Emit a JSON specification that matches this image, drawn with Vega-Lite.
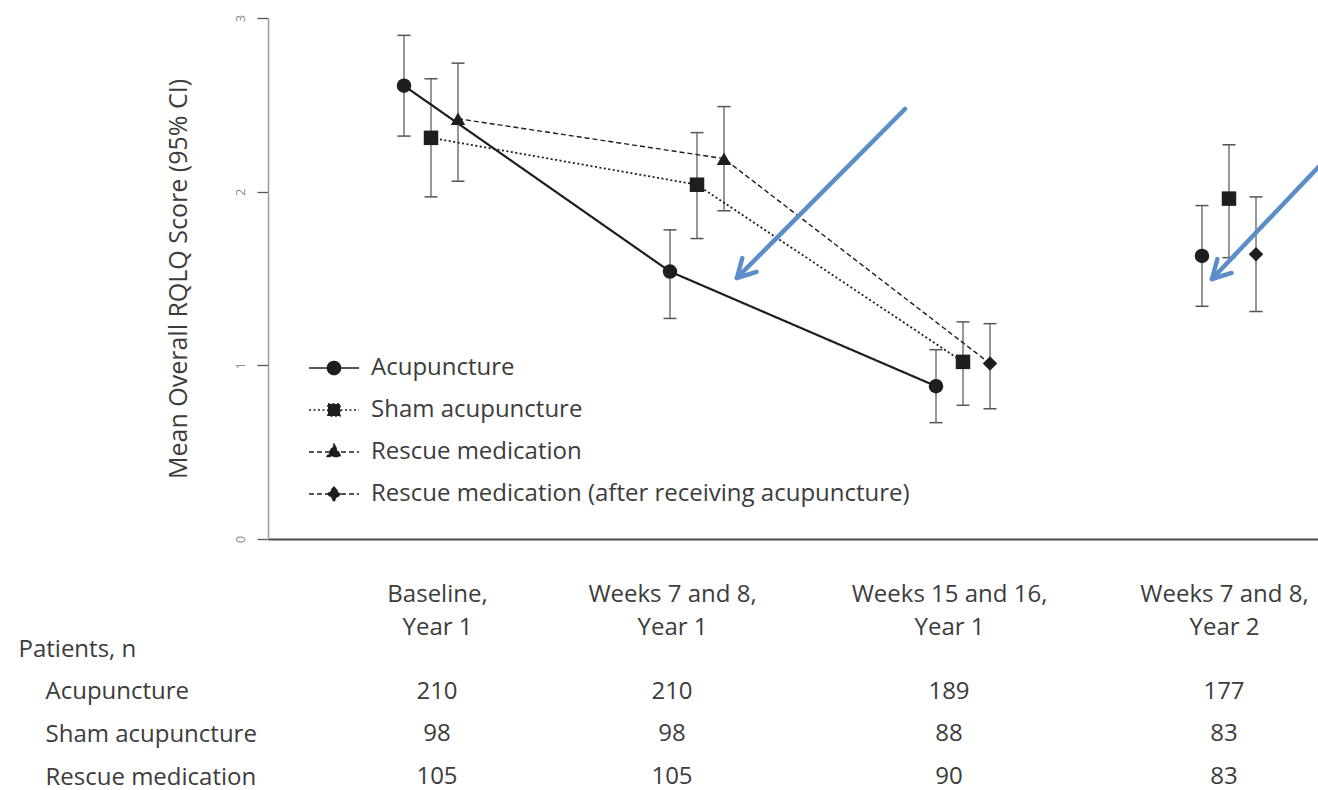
{
  "$schema": "https://vega.github.io/schema/vega-lite/v6.json",
  "background": "white",
  "padding": {"left": 18, "top": 14, "right": 0, "bottom": 12},
  "bounds": "flush",
  "spacing": 110,
  "config": {"view": {"stroke": null}, "font": "Open Sans"},
  "datasets": {
    "scores": [
      {"visit": 1, "arm": "Acupuncture", "group": "Acupuncture", "line": "Acupuncture", "mean": 2.61, "lo": 2.32, "hi": 2.9},
      {"visit": 2, "arm": "Acupuncture", "group": "Acupuncture", "line": "Acupuncture", "mean": 1.54, "lo": 1.27, "hi": 1.78},
      {"visit": 3, "arm": "Acupuncture", "group": "Acupuncture", "line": "Acupuncture", "mean": 0.88, "lo": 0.67, "hi": 1.09},
      {"visit": 4, "arm": "Acupuncture", "group": "Acupuncture", "line": null, "mean": 1.63, "lo": 1.34, "hi": 1.92},
      {"visit": 1, "arm": "Sham acupuncture", "group": "Sham acupuncture", "line": "Sham acupuncture", "mean": 2.31, "lo": 1.97, "hi": 2.65},
      {"visit": 2, "arm": "Sham acupuncture", "group": "Sham acupuncture", "line": "Sham acupuncture", "mean": 2.04, "lo": 1.73, "hi": 2.34},
      {"visit": 3, "arm": "Sham acupuncture", "group": "Sham acupuncture", "line": "Sham acupuncture", "mean": 1.02, "lo": 0.77, "hi": 1.25},
      {"visit": 4, "arm": "Sham acupuncture", "group": "Sham acupuncture", "line": null, "mean": 1.96, "lo": 1.62, "hi": 2.27},
      {"visit": 1, "arm": "Rescue medication", "group": "Rescue medication", "line": "Rescue medication", "mean": 2.42, "lo": 2.06, "hi": 2.74},
      {"visit": 2, "arm": "Rescue medication", "group": "Rescue medication", "line": "Rescue medication", "mean": 2.19, "lo": 1.89, "hi": 2.49},
      {"visit": 3, "arm": "Rescue medication", "group": "Rescue medication (after receiving acupuncture)", "line": "Rescue medication", "mean": 1.01, "lo": 0.75, "hi": 1.24},
      {"visit": 4, "arm": "Rescue medication", "group": "Rescue medication (after receiving acupuncture)", "line": null, "mean": 1.64, "lo": 1.31, "hi": 1.97}
    ],
    "arrows": [
      {"x0": 2.782, "y0": 2.476, "x1": 2.15, "y1": 1.503},
      {"x0": 4.4, "y0": 2.245, "x1": 3.936, "y1": 1.497}
    ],
    "patients": [
      {"visit": 1, "row": "Acupuncture", "n": 210},
      {"visit": 1, "row": "Sham acupuncture", "n": 98},
      {"visit": 1, "row": "Rescue medication", "n": 105},
      {"visit": 2, "row": "Acupuncture", "n": 210},
      {"visit": 2, "row": "Sham acupuncture", "n": 98},
      {"visit": 2, "row": "Rescue medication", "n": 105},
      {"visit": 3, "row": "Acupuncture", "n": 189},
      {"visit": 3, "row": "Sham acupuncture", "n": 88},
      {"visit": 3, "row": "Rescue medication", "n": 90},
      {"visit": 4, "row": "Acupuncture", "n": 177},
      {"visit": 4, "row": "Sham acupuncture", "n": 83},
      {"visit": 4, "row": "Rescue medication", "n": 83}
    ]
  },
  "vconcat": [
    {
      "width": 1050,
      "height": 521,
      "resolve": {"scale": {"x": "independent"}, "axis": {"x": "independent"}},
      "layer": [
        {
          "data": {"name": "scores"},
          "resolve": {"scale": {"shape": "independent", "strokeDash": "independent"}},
          "encoding": {
            "x": {
              "field": "visit",
              "type": "ordinal",
              "scale": {"type": "point", "domain": [1, 2, 3, 4], "range": [163, 961], "padding": 0},
              "axis": null
            },
            "xOffset": {
              "field": "arm",
              "type": "nominal",
              "scale": {"type": "point", "domain": ["Acupuncture", "Sham acupuncture", "Rescue medication"], "range": [-27, 27], "padding": 0}
            }
          },
          "layer": [
            {
              "mark": {"type": "rule", "color": "#8c8c8c", "strokeWidth": 1.8},
              "encoding": {
                "y": {
                  "field": "lo",
                  "type": "quantitative",
                  "scale": {"domain": [0, 3], "nice": false},
                  "axis": {
                    "title": "Mean Overall RQLQ Score (95% CI)",
                    "values": [0, 1, 2, 3],
                    "format": "d",
                    "grid": false,
                    "domainColor": "#9a9a9a",
                    "domainWidth": 1.5,
                    "tickColor": "#555555",
                    "tickSize": 11,
                    "tickWidth": 1.3,
                    "labelAngle": -90,
                    "labelAlign": "center",
                    "labelBaseline": "bottom",
                    "labelFontSize": 13,
                    "labelColor": "#8a8a8a",
                    "labelPadding": 10,
                    "titleFontSize": 25,
                    "titleFontWeight": "normal",
                    "titleColor": "#3c3c3c",
                    "titlePadding": 43
                  }
                },
                "y2": {"field": "hi"}
              }
            },
            {
              "mark": {"type": "point", "shape": "stroke", "size": 169, "filled": false, "color": "#555555", "strokeWidth": 1.5, "opacity": 1},
              "encoding": {"y": {"field": "lo", "type": "quantitative"}}
            },
            {
              "mark": {"type": "point", "shape": "stroke", "size": 169, "filled": false, "color": "#555555", "strokeWidth": 1.5, "opacity": 1},
              "encoding": {"y": {"field": "hi", "type": "quantitative"}}
            },
            {
              "transform": [{"filter": "datum.line != null"}],
              "mark": {"type": "line", "color": "#1e1e1e"},
              "encoding": {
                "y": {"field": "mean", "type": "quantitative"},
                "detail": {"field": "line", "type": "nominal"},
                "order": {"field": "visit", "type": "quantitative"},
                "strokeDash": {
                  "field": "line",
                  "type": "nominal",
                  "scale": {"domain": ["Acupuncture", "Sham acupuncture", "Rescue medication"], "range": [[1, 0], [2, 2.5], [5, 3]]},
                  "legend": null
                },
                "strokeWidth": {
                  "field": "line",
                  "type": "nominal",
                  "scale": {"domain": ["Acupuncture", "Sham acupuncture", "Rescue medication"], "range": [2.2, 1.4, 2]},
                  "legend": null
                }
              }
            },
            {
              "mark": {"type": "point", "filled": true, "color": "#1e1e1e", "opacity": 1, "size": 210},
              "encoding": {
                "y": {"field": "mean", "type": "quantitative"},
                "shape": {
                  "field": "group",
                  "type": "nominal",
                  "scale": {
                    "domain": ["Acupuncture", "Sham acupuncture", "Rescue medication", "Rescue medication (after receiving acupuncture)"],
                    "range": ["circle", "square", "triangle-up", "diamond"]
                  },
                  "legend": null
                }
              }
            },
            {
              "description": "Legend key: line sample with its marker for each series",
              "transform": [{"filter": "false"}],
              "mark": {"type": "point", "filled": true, "fill": "#1e1e1e", "stroke": "#1e1e1e", "strokeWidth": 1.6, "opacity": 1},
              "encoding": {
                "y": {"field": "mean", "type": "quantitative"},
                "shape": {
                  "field": "group",
                  "type": "nominal",
                  "scale": {
                    "domain": ["Acupuncture", "Sham acupuncture", "Rescue medication", "Rescue medication (after receiving acupuncture)"],
                    "range": [
                      "M-1.667,0H1.667M0.433,0A0.433,0.433,0,1,1,-0.433,0A0.433,0.433,0,1,1,0.433,0Z",
                      "M-1.667,0H1.667M-0.4,-0.4H0.4V0.4H-0.4Z",
                      "M-1.667,0H1.667M0,-0.5L0.45,0.3H-0.45Z",
                      "M-1.667,0H1.667M0,-0.45L0.4,0L0,0.45L-0.4,0Z"
                    ]
                  },
                  "legend": {
                    "title": null,
                    "orient": "none",
                    "legendX": 50,
                    "legendY": 334,
                    "padding": 0,
                    "symbolSize": 900,
                    "symbolStrokeWidth": 1.6,
                    "labelFontSize": 24,
                    "labelColor": "#3c3c3c",
                    "labelOffset": 21,
                    "labelLimit": 0,
                    "rowPadding": 14
                  }
                },
                "strokeDash": {
                  "field": "group",
                  "type": "nominal",
                  "scale": {
                    "domain": ["Acupuncture", "Sham acupuncture", "Rescue medication", "Rescue medication (after receiving acupuncture)"],
                    "range": [[1, 0], [2, 2.5], [5, 3], [5, 3]]
                  },
                  "legend": {"title": null}
                }
              }
            }
          ]
        },
        {
          "data": {"name": "arrows"},
          "encoding": {
            "x": {
              "field": "x1",
              "type": "quantitative",
              "scale": {"domain": [0.3872, 4.3346], "nice": false, "zero": false},
              "axis": {
                "title": null,
                "values": [1, 2, 3, 4],
                "ticks": false,
                "grid": false,
                "domainColor": "#4a4a4a",
                "domainWidth": 2,
                "labelFontSize": 24,
                "labelColor": "#3c3c3c",
                "labelPadding": 43,
                "labelLineHeight": 33,
                "labelBaseline": "top",
                "labelFlush": false,
                "labelOverlap": false,
                "labelBound": false,
                "labelLimit": 0,
                "labelExpr": "datum.value == 1 ? ['Baseline,', 'Year 1'] : datum.value == 2 ? ['Weeks 7 and 8,', 'Year 1'] : datum.value == 3 ? ['Weeks 15 and 16,', 'Year 1'] : ['Weeks 7 and 8,', 'Year 2']",
                "labelOffset": {
                  "condition": [
                    {"test": "datum.value == 1", "value": 6},
                    {"test": "datum.value == 2", "value": -25},
                    {"test": "datum.value == 3", "value": -14}
                  ],
                  "value": -5
                }
              }
            },
            "y": {"field": "y1", "type": "quantitative"}
          },
          "layer": [
            {
              "mark": {"type": "rule", "color": "#5b8ec9", "strokeWidth": 4.5, "strokeCap": "round"},
              "encoding": {
                "x2": {"field": "x0"},
                "y2": {"field": "y0"}
              }
            },
            {
              "mark": {"type": "point", "shape": "M-1,-0.55L0,0L-1,0.55", "filled": false, "color": "#5b8ec9", "strokeWidth": 4.5, "strokeCap": "round", "strokeJoin": "round", "size": 1300, "angle": 134, "opacity": 1}
            }
          ]
        }
      ]
    },
    {
      "width": 1050,
      "height": 128,
      "data": {"name": "patients"},
      "mark": {
        "type": "text",
        "fontSize": 24,
        "color": "#3c3c3c",
        "baseline": "middle",
        "dx": {"expr": "datum.visit == 1 ? 6 : datum.visit == 2 ? -25 : datum.visit == 3 ? -14 : -5"}
      },
      "encoding": {
        "x": {
          "field": "visit",
          "type": "quantitative",
          "scale": {"domain": [0.3872, 4.3346], "nice": false, "zero": false},
          "axis": null
        },
        "y": {
          "field": "row",
          "type": "nominal",
          "scale": {"type": "point", "domain": ["Patients, n", "Acupuncture", "Sham acupuncture", "Rescue medication"], "padding": 0},
          "axis": {
            "title": null,
            "domain": false,
            "ticks": false,
            "labelAlign": "left",
            "labelPadding": {"condition": {"test": "datum.value == 'Patients, n'", "value": 250}, "value": 223},
            "labelFontSize": 24,
            "labelColor": "#3c3c3c",
            "labelLimit": 0
          }
        },
        "text": {"field": "n", "type": "quantitative"}
      }
    }
  ]
}
